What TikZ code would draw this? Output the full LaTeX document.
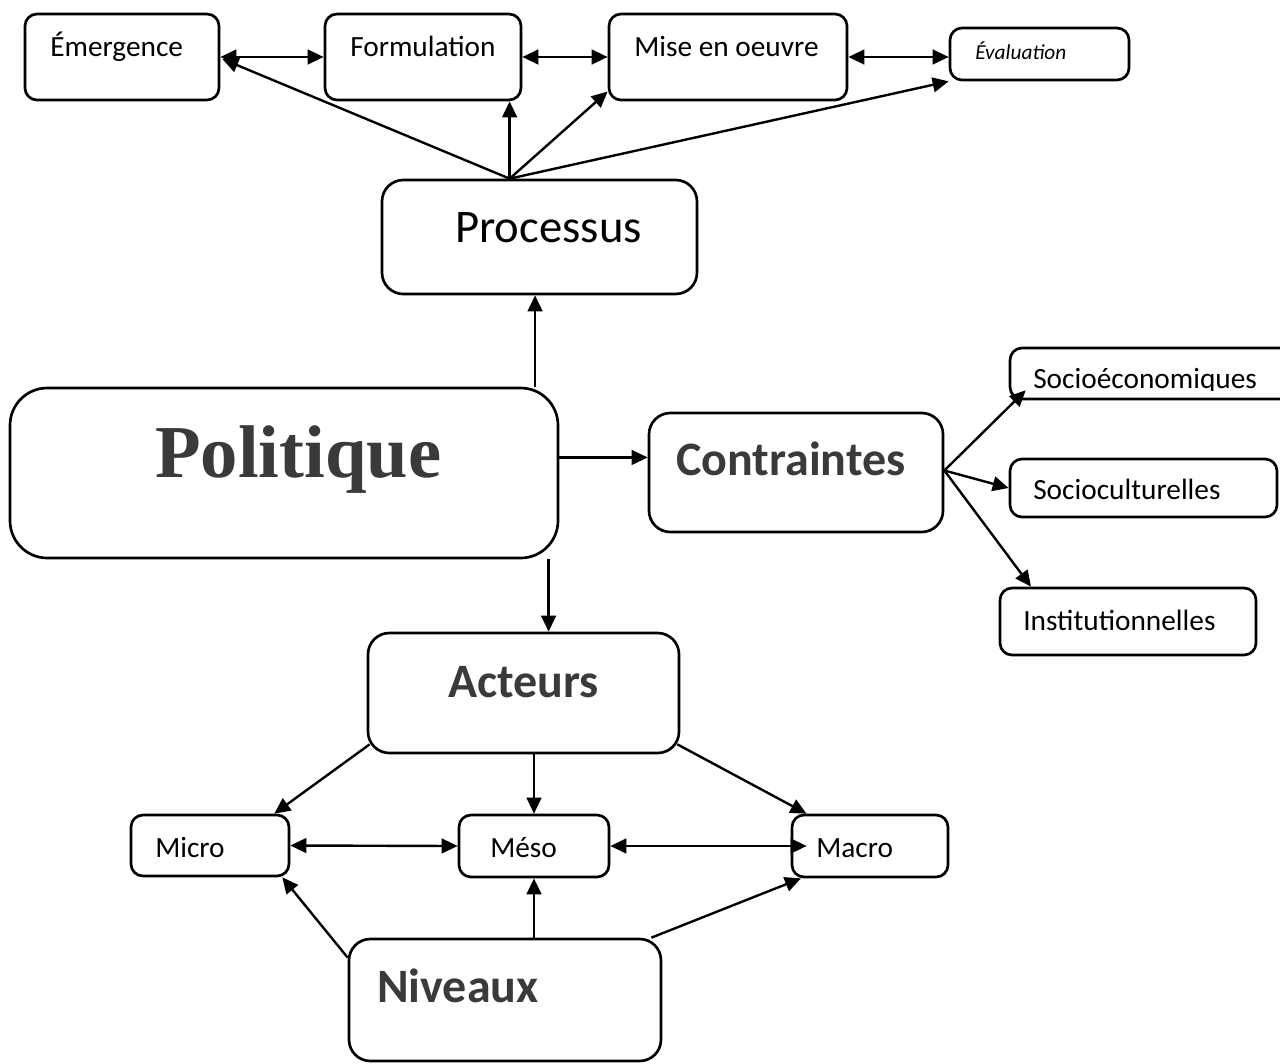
\documentclass[tikz,border=0pt]{standalone}
\usepackage{fontspec}
\setmainfont{Carlito}
\newfontfamily\timesfont{Liberation Serif}
\usetikzlibrary{arrows.meta,fit,calc}
\definecolor{darktxt}{HTML}{3A3A3A}
\begin{document}
\begin{tikzpicture}[x=0.75pt,y=-0.75pt,
  box/.style={draw, line width=2pt, rounded corners=#1, inner sep=0pt},
  box/.default=9pt,
  lbl/.style={anchor=base west, inner sep=0pt, font=\fontsize{22}{26}\selectfont},
  big/.style={anchor=base west, inner sep=0pt, font=\fontsize{35}{40}\selectfont},
  bigb/.style={anchor=base west, inner sep=0pt, font=\fontsize{36}{40}\selectfont\bfseries, text=darktxt},
  arr/.style={line width=1.8pt, -{Triangle[length=12pt,width=11pt]}},
  darr/.style={line width=1.8pt, {Triangle[length=12pt,width=11pt]}-{Triangle[length=12pt,width=11pt]}},
]
\fill[white] (0,0) rectangle (1280,1063);
\useasboundingbox (0,0) rectangle (1280,1063);
\clip (0,0) rectangle (1280,1063);

% boxes
\node[box, fit={(25,14) (219,100)}] (em) {};
\node[box, fit={(325,14) (521,100)}] (fo) {};
\node[box, fit={(609,14) (847,100)}] (mi) {};
\node[box, fit={(950,28) (1129,80)}] (ev) {};
\node[box=16pt, fit={(382,180) (697,294)}] (pr) {};
\node[box=28pt, fit={(10,388) (558,558)}] (po) {};
\node[box=16pt, fit={(649,413) (943,532)}] (co) {};
\node[box, fit={(1010,348) (1295,399)}] (se) {};
\node[box, fit={(1010,459) (1277,517)}] (sc) {};
\node[box, fit={(1000,588) (1256,655)}] (in) {};
\node[box=16pt, fit={(368,633) (679,753)}] (ac) {};
\node[box, fit={(131,815) (289,876)}] (mc) {};
\node[box, fit={(459,815) (609,877)}] (ms) {};
\node[box, fit={(792,815) (948,877)}] (ma) {};
\node[box=16pt, fit={(349,939) (661,1061)}] (ni) {};

% texts
\node[lbl] (tem) at (50,57) {Émergence};
\node[lbl] (tfo) at (350,57) {Formulation};
\node[lbl] (tmi) at (634,56) {Mise en oeuvre};
\node[lbl, font=\fontsize{16}{19}\selectfont\itshape] (tev) at (975,60) {Évaluation};
\node[big] (tpr) at (455,242) {Processus};
\node[anchor=base west, inner sep=0pt, font=\fontsize{56}{60}\selectfont\timesfont\bfseries, text=darktxt] (tpo) at (155,477) {Politique};
\node[bigb] (tco) at (676,475) {Contraintes};
\begin{scope}
\clip (1000,340) rectangle (1290,390);
\node[lbl] (tse) at (1033,388) {Socioéconomiques};
\end{scope}
\node[lbl] (tsc) at (1033,499) {Socioculturelles};
\node[lbl] (tin) at (1023,630) {Institutionnelles};
\node[bigb] (tac) at (448,697) {Acteurs};
\node[lbl] (tmc) at (155,857) {Micro};
\node[lbl] (tms) at (490,857) {Méso};
\node[lbl] (tma) at (816,857) {Macro};
\node[bigb] (tni) at (377,1002) {Niveaux};

% top row double arrows
\draw[darr] (em.east) -- (fo.west);
\draw[darr] (fo.east) -- (mi.west);
\draw[darr] (mi.east) -- (mi.east -| ev.west);

% processus fan
\coordinate (p0) at ($(pr.north west)!0.406!(pr.north east)$);
\draw[arr] (p0) -- ($(em.east)+(2,2)$);
\draw[arr] (p0) -- (p0 |- fo.south);
\draw[arr] (p0) -- (mi.196);
\draw[arr] (p0) -- (ev.south west);

% politique links
\coordinate (pu) at ($(pr.south west)!0.486!(pr.south east)$);
\draw[arr] (pu |- po.north) -- (pu);
\coordinate (pe) at ($(po.north east)!0.41!(po.south east)$);
\draw[arr] (pe) -- (pe -| co.west);
\coordinate (pd) at ($(ac.north west)!0.58!(ac.north east)$);
\draw[arr] (pd |- po.south) -- (pd);

% contraintes fan
\coordinate (c0) at ($(co.east)+(0,-2)$);
\draw[arr] (c0) -- ($(se.south west)+(17,-10)$);
\draw[arr] (c0) -- (sc.west);
\draw[arr] (c0) -- ($(in.north west)!0.125!(in.north east)$);

% acteurs fan
\draw[arr] ($(ac.south west)+(3,-10)$) -- ($(mc.north west)!0.9!(mc.north east)$);
\draw[arr] (ms.north |- ac.south) -- (ms.north);
\draw[arr] ($(ac.south east)+(-3,-10)$) -- ($(ma.north west)!0.1!(ma.north east)$);

% levels double arrows
\draw[darr] (mc.east) -- (ms.west);
\draw[darr] (ms.east) -- ($(ma.west)+(16,0)$);

% niveaux fan
\draw[arr] ($(ni.north west)!0.16!(ni.south west)$) -- ($(mc.south west)!0.95!(mc.south east)$);
\draw[arr] (ms.south |- ni.north) -- (ms.south);
\draw[arr] ($(ni.north west)!0.965!(ni.north east)$) -- ($(ma.south west)!0.065!(ma.south east)$);
\end{tikzpicture}
\end{document}
